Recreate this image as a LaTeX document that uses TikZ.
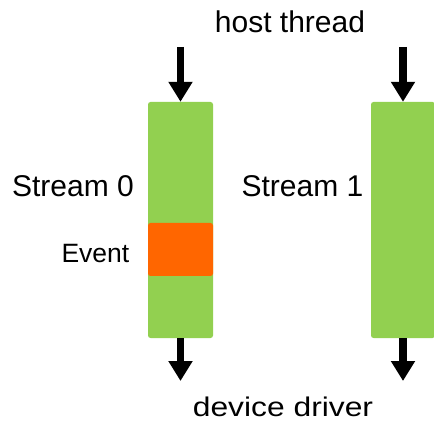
\documentclass[tikz,border=0pt]{standalone}
\usepackage{fontspec}
\setmainfont{Liberation Sans}
\usetikzlibrary{arrows.meta}
\definecolor{streamgreen}{HTML}{92D050}
\definecolor{eventorange}{HTML}{FF6600}
\begin{document}
\begin{tikzpicture}[x=1pt,y=-1pt,
  streambox/.style={fill=streamgreen,draw=none,rounded corners=2.5pt,minimum width=65pt,inner sep=0pt},
  eventbox/.style={fill=eventorange,draw=none,rounded corners=2.5pt,minimum width=65pt,minimum height=53pt,inner sep=0pt},
  flow/.style={line width=7.5pt,-{Triangle[width=23pt,length=20pt]}},
  bigtext/.style={font=\fontsize{30}{36}\selectfont,inner sep=0pt,anchor=base},
  smalltext/.style={font=\fontsize{26.5}{32}\selectfont,inner sep=0pt,anchor=base east}]
\useasboundingbox (0,0) rectangle (434,422);
\node[streambox,minimum height=236pt] (s0) at (180.5,220) {};
\node[streambox,minimum height=236pt,minimum width=64pt] (s1) at (403,220) {};
\node[eventbox] (ev) at (180.5,249.5) {};
\coordinate (in0) at (180.5,47);
\coordinate (in1) at (403,47);
\coordinate (out0) at (180.5,381);
\coordinate (out1) at (403,381);
\draw[flow] (in0) -- (s0.north);
\draw[flow] (in1) -- (s1.north);
\draw[flow] (s0.south) -- (out0);
\draw[flow] (s1.south) -- (out1);
\node[bigtext] (host) at (290,33) {host thread};
\node[bigtext] (lab0) at (73,197) {Stream 0};
\node[bigtext] (lab1) at (302.5,197) {Stream 1};
\node[smalltext] (evlab) at (129.5,263) {Event};
\node[bigtext,xscale=1.06,yscale=0.9,transform shape] (dev) at (283,416) {device driver};
\end{tikzpicture}
\end{document}
